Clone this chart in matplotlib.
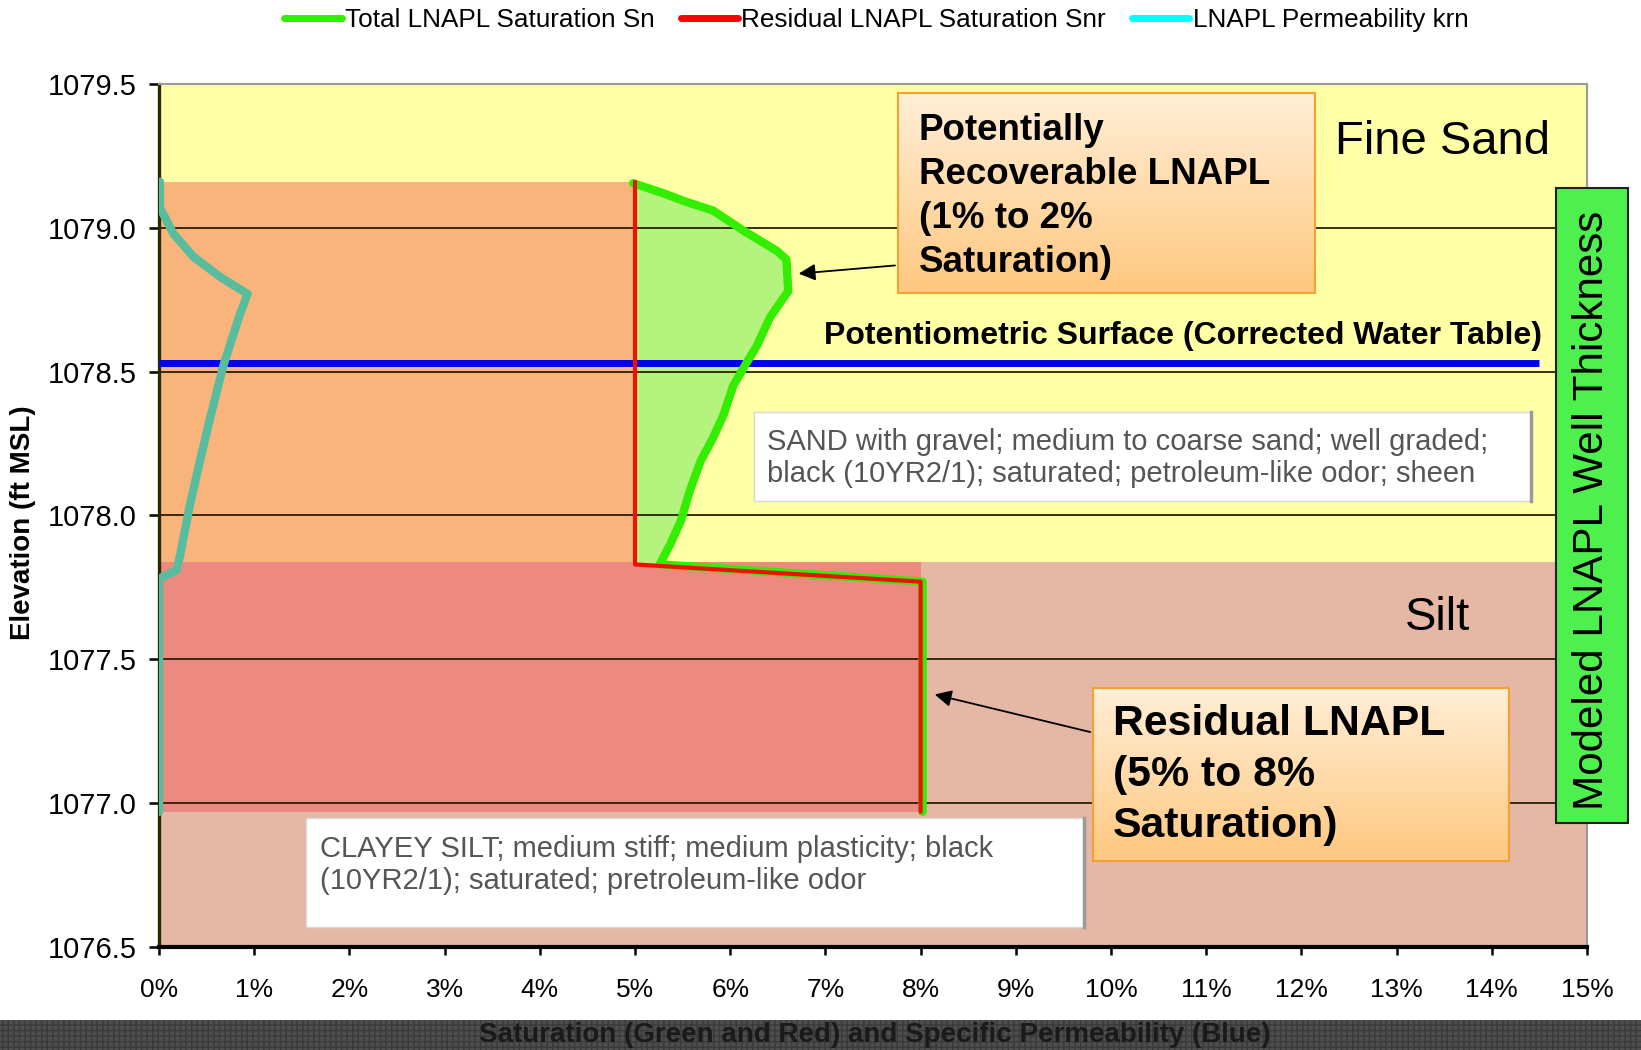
import matplotlib
matplotlib.use("Agg")
import matplotlib.pyplot as plt
import numpy as np
from matplotlib.patches import Rectangle
from matplotlib.lines import Line2D

plt.rcParams['font.family'] = ['Liberation Sans', 'DejaVu Sans']

# ---------------- data ----------------
# Total LNAPL saturation Sn (%) vs elevation (ft MSL)
sn_sat = [4.98, 5.30, 5.54, 5.82, 6.14, 6.49, 6.59, 6.61, 6.42, 6.28, 6.17, 6.03,
          5.93, 5.82, 5.69, 5.58, 5.48, 5.37, 5.26, 8.02, 8.02]
sn_elev = [1079.155, 1079.12, 1079.09, 1079.06, 1078.99, 1078.92, 1078.89, 1078.78,
           1078.69, 1078.59, 1078.53, 1078.45, 1078.35, 1078.27, 1078.19, 1078.09,
           1077.98, 1077.90, 1077.83, 1077.77, 1076.97]

# Residual LNAPL saturation Snr (%)
snr_sat = [5.0, 5.0, 8.0, 8.0]
snr_elev = [1079.16, 1077.83, 1077.77, 1076.97]

# LNAPL permeability krn
krn_val = [0.01, 0.01, 0.15, 0.36, 0.64, 0.93, 0.85, 0.675, 0.53, 0.43, 0.32,
           0.22, 0.185, 0.0, 0.0]
krn_elev = [1079.16, 1079.07, 1078.98, 1078.90, 1078.83, 1078.77, 1078.70, 1078.52,
            1078.33, 1078.19, 1078.03, 1077.86, 1077.81, 1077.78, 1076.97]

sand_silt_contact = 1077.84
water_table = 1078.53
water_table_x = [0.0, 14.5]

y_ticks = [1076.5, 1077.0, 1077.5, 1078.0, 1078.5, 1079.0, 1079.5]
x_ticks = list(range(0, 16))

# ---------------- figure ----------------
fig = plt.figure(figsize=(16.41, 10.5), dpi=100)
ax = fig.add_axes([0.0969, 0.0981, 0.8702, 0.8219])
ax.set_xlim(0, 15)
ax.set_ylim(1076.5, 1079.5)

# layers
ax.axhspan(sand_silt_contact, 1079.5, color='#FFFFA6', zorder=0, lw=0)
ax.axhspan(1076.5, sand_silt_contact, color='#E4B8A4', zorder=0, lw=0)

# residual areas (under Snr)
ax.fill_betweenx([sand_silt_contact, snr_elev[0]], 0, snr_sat[0],
                 color='#F9B47C', lw=0, zorder=1)
ax.fill_betweenx([snr_elev[-1], sand_silt_contact], 0, snr_sat[-1],
                 color='#EC8A80', lw=0, zorder=1)

# recoverable area (between Snr and Sn in sand)
n_sand = sum(1 for e in sn_elev if e >= 1077.83)
ax.fill_betweenx(sn_elev[:n_sand], snr_sat[0], sn_sat[:n_sand],
                 color='#B4F37E', lw=0, zorder=1.2)

# grid
for yt in y_ticks[1:-1]:
    ax.axhline(yt, color='#2a1e08', lw=1.3, zorder=2)

# water table
ax.plot(water_table_x, [water_table, water_table], color='#0000F5', lw=5,
        zorder=3, solid_capstyle='butt')

# curves
ax.plot(krn_val, krn_elev, color='#58BC9E', lw=6, zorder=4,
        solid_capstyle='round', solid_joinstyle='round')
ax.plot(sn_sat, sn_elev, color='#33EE00', lw=6, zorder=4,
        solid_capstyle='round', solid_joinstyle='round')
ax.plot(snr_sat, snr_elev, color='#EE1100', lw=3, zorder=4.5,
        solid_capstyle='round', solid_joinstyle='round')

# ---------------- annotation boxes ----------------
def grad_box(x0, x1, y0, y1):
    n = 64
    top = np.array([255, 238, 214]) / 255
    bot = np.array([255, 200, 128]) / 255
    t = np.linspace(0, 1, n)[:, None]
    g = (top * (1 - t) + bot * t)[:, None, :]
    ax.imshow(g, extent=[x0, x1, y0, y1], aspect='auto', zorder=6,
              interpolation='bilinear')
    ax.add_patch(Rectangle((x0, y0), x1 - x0, y1 - y0, fill=False,
                           edgecolor='#F5A030', lw=1.5, zorder=6.5))

grad_box(7.76, 12.14, 1078.773, 1079.469)
ax.text(7.98, 1079.400, "Potentially\nRecoverable LNAPL\n(1% to 2%\nSaturation)",
        fontsize=26.5, fontweight='bold', va='top', ha='left', zorder=7,
        linespacing=1.34)
ax.annotate("", xy=(6.69, 1078.84), xytext=(7.76, 1078.87),
            arrowprops=dict(arrowstyle='-|>', color='black', lw=1.3,
                            mutation_scale=25), zorder=7)

grad_box(9.81, 14.18, 1076.80, 1077.40)
ax.text(10.02, 1077.345, "Residual LNAPL\n(5% to 8%\nSaturation)",
        fontsize=30.8, fontweight='bold', va='top', ha='left', zorder=7,
        linespacing=1.36)
ax.annotate("", xy=(8.12, 1077.38), xytext=(9.81, 1077.245),
            arrowprops=dict(arrowstyle='-|>', color='black', lw=1.3,
                            mutation_scale=25), zorder=7)

# lithology boxes
ax.add_patch(Rectangle((6.25, 1078.05), 14.41 - 6.25, 1078.36 - 1078.05,
                       facecolor='white', edgecolor='#d8d8d8', lw=1, zorder=5))
ax.plot([14.41, 14.41], [1078.05, 1078.36], color='#9a9a9a', lw=2.5, zorder=5.1)
ax.text(6.39, 1078.20,
        "SAND with gravel; medium to coarse sand; well graded;\n"
        "black (10YR2/1); saturated; petroleum-like odor; sheen",
        fontsize=21, color='#555555', va='center', ha='left', zorder=5.2,
        linespacing=1.2)

ax.add_patch(Rectangle((1.54, 1076.57), 9.72 - 1.54, 1076.95 - 1076.57,
                       facecolor='white', edgecolor='#d8d8d8', lw=1, zorder=5))
ax.plot([9.72, 9.72], [1076.57, 1076.95], color='#9a9a9a', lw=2.5, zorder=5.1)
ax.text(1.69, 1076.785,
        "CLAYEY SILT; medium stiff; medium plasticity; black\n"
        "(10YR2/1); saturated; pretroleum-like odor",
        fontsize=21, color='#555555', va='center', ha='left', zorder=5.2,
        linespacing=1.2)

# layer labels
ax.text(13.48, 1079.30, "Fine Sand", fontsize=34, ha='center', va='center', zorder=5)
ax.text(13.43, 1077.645, "Silt", fontsize=34, ha='center', va='center', zorder=5)
ax.text(6.99, 1078.624, "Potentiometric Surface (Corrected Water Table)",
        fontsize=23, fontweight='bold', ha='left', va='center', zorder=5)

# modeled thickness box (extends beyond axes)
ax.add_patch(Rectangle((14.67, 1076.93), 15.43 - 14.67, 1079.14 - 1076.93,
                       facecolor='#4EF04E', edgecolor='#202020', lw=1.5,
                       zorder=8, clip_on=False))
ax.text(15.05, 1078.017, "Modeled LNAPL Well Thickness", rotation=90,
        fontsize=30.3, ha='center', va='center', zorder=9, clip_on=False)

# ---------------- axes styling ----------------
ax.set_yticks(y_ticks)
ax.set_yticklabels([f"{v:.1f}" for v in y_ticks])
ax.set_xticks(x_ticks)
ax.set_xticklabels([f"{v}%" for v in x_ticks])
ax.tick_params(axis='y', direction='out', length=7, width=1.8, pad=9,
               labelsize=21)
ax.tick_params(axis='x', direction='out', length=6, width=1.8, pad=16,
               labelsize=19)
ax.spines['left'].set_color('#2a2a00')
ax.spines['left'].set_linewidth(2.4)
ax.spines['bottom'].set_color('black')
ax.spines['bottom'].set_linewidth(3)
for s in ('top', 'right'):
    ax.spines[s].set_color('#9a9a9a')
    ax.spines[s].set_linewidth(1.5)

fig.text(23 / 1641, 1 - 523 / 1050, "Elevation (ft MSL)", rotation=90,
         fontsize=20, fontweight='bold', ha='center', va='center')

# bottom band
fig.add_artist(Rectangle((0, 0), 1, 30 / 1050, transform=fig.transFigure,
                         facecolor='#4e4e4e', edgecolor='#3a3a3a', hatch='+++',
                         lw=0))
fig.text(0.533, 15 / 1050, "Saturation (Green and Red) and Specific Permeability (Blue)",
         fontsize=20, fontweight='bold', color='#1a1a1a', ha='center', va='center')

# legend
handles = [Line2D([], [], color='#33EE00', lw=5, solid_capstyle='round'),
           Line2D([], [], color='#FF0000', lw=5, solid_capstyle='round'),
           Line2D([], [], color='#00FFFF', lw=5, solid_capstyle='round')]
labels = ["Total LNAPL Saturation Sn", "Residual LNAPL Saturation Snr",
          "LNAPL Permeability krn"]
fig.legend(handles, labels, loc='center', bbox_to_anchor=(0.534, 0.981), ncol=3,
           frameon=False, fontsize=18.8, handlelength=2.2, handletextpad=0.12,
           columnspacing=1.0)

fig.savefig("out.png", dpi=100)
